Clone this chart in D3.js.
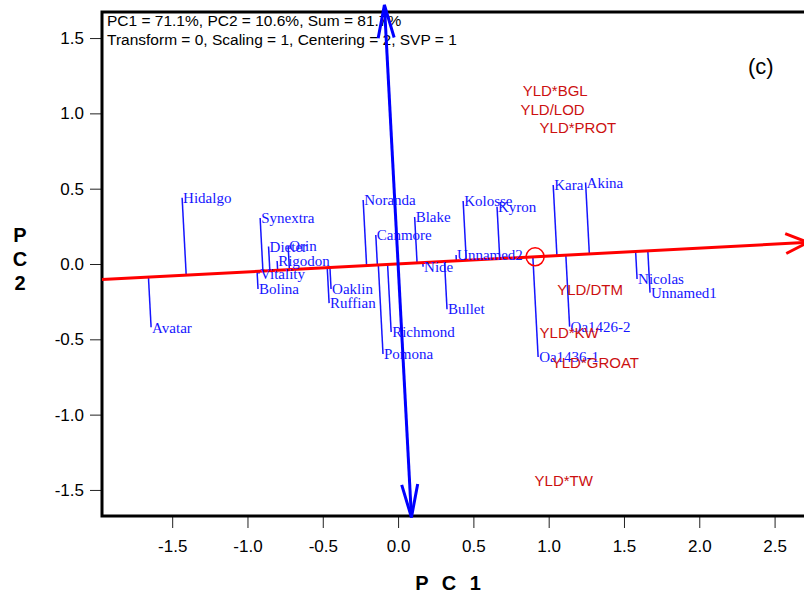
<!DOCTYPE html>
<html>
<head>
<meta charset="utf-8">
<script src="https://cdn.jsdelivr.net/npm/d3@7"></script>
<style>
  body { margin: 0; background: #fff; }
  text { font-family: "Liberation Sans", Arial, sans-serif; }
  text.geno { font-family: "Liberation Serif", "Times New Roman", serif; }
</style>
</head>
<body>
<script>
// genotypes (blue labels)
var genotypes = ["Hidalgo", "Avatar", "Synextra", "Dieter", "Orin", "Rigodon", "Vitality", "Bolina",
  "Oaklin", "Ruffian", "Noranda", "Canmore", "Blake", "Nide", "Richmond", "Pomona", "Bullet",
  "Kolosse", "Kyron", "Unnamed2", "Oa1436-1", "Kara", "Akina", "Oa1426-2", "Nicolas", "Unnamed1"];
var genoPC1 = [-1.434, -1.64, -0.916, -0.86, -0.73, -0.803, -0.923, -0.93,
  -0.445, -0.458, -0.232, -0.148, 0.11, 0.166, -0.046, -0.1, 0.325,
  0.432, 0.657, 0.385, 0.93, 1.03, 1.245, 1.139, 1.587, 1.673];
var genoPC2 = [0.44, -0.42, 0.305, 0.116, 0.12, 0.02, -0.064, -0.166,
  -0.166, -0.26, 0.425, 0.193, 0.312, -0.018, -0.452, -0.598, -0.3,
  0.418, 0.38, 0.06, -0.617, 0.525, 0.541, -0.416, -0.1, -0.19];

// environments / traits (red labels)
var envNames = ["YLD*BGL", "YLD/LOD", "YLD*PROT", "YLD/DTM", "YLD*KW", "YLD*GROAT", "YLD*TW"];
var envPC1 = [1.043, 1.026, 1.194, 1.275, 1.136, 1.31, 1.10];
var envPC2 = [1.151, 1.023, 0.905, -0.173, -0.456, -0.655, -1.44];

// average environment coordinate
var aec = [0.91, 0.048];

var xTicks = [-1.5, -1.0, -0.5, 0.0, 0.5, 1.0, 1.5, 2.0, 2.5];
var yTicks = [-1.5, -1.0, -0.5, 0.0, 0.5, 1.0, 1.5];

var infoLines = ["PC1 = 71.1%, PC2 = 10.6%, Sum = 81.7%",
  "Transform = 0, Scaling = 1, Centering = 2, SVP = 1"];

var width = 804, height = 596;
var plotLeft = 102, plotTop = 12, plotBottom = 516;

var x = d3.scaleLinear().domain([-1.966, 2.74]).range([plotLeft, plotLeft + 4.706 * 150.6]);
var y = d3.scaleLinear().domain([-1.673, 1.673]).range([plotBottom, plotTop]);

var fmt = function(d) { return d.toFixed(1); };

var svg = d3.select("body").append("svg")
  .attr("width", width)
  .attr("height", height);

// axes
var yAxis = svg.append("g")
  .attr("transform", "translate(" + plotLeft + ",0)")
  .call(d3.axisLeft(y).tickValues(yTicks).tickFormat(fmt).tickSize(12).tickPadding(6));
var xAxis = svg.append("g")
  .attr("transform", "translate(0," + plotBottom + ")")
  .call(d3.axisBottom(x).tickValues(xTicks).tickFormat(fmt).tickSize(12).tickPadding(12));
[xAxis, yAxis].forEach(function(a) {
  a.select(".domain").remove();
  a.selectAll("line").attr("stroke", "#222");
  a.selectAll("text").attr("font-size", 17).attr("fill", "#000");
});

// frame (right side runs past the window)
svg.append("rect")
  .attr("x", plotLeft).attr("y", plotTop)
  .attr("width", x.range()[1] - plotLeft).attr("height", plotBottom - plotTop)
  .attr("fill", "none").attr("stroke", "#000").attr("stroke-width", 3);

// axis titles
svg.append("text")
  .attr("x", 450).attr("y", 590)
  .attr("text-anchor", "middle")
  .attr("font-size", 20).attr("font-weight", "bold")
  .attr("letter-spacing", 4)
  .text("P C 1");
["P", "C", "2"].forEach(function(c, i) {
  svg.append("text")
    .attr("x", 20).attr("y", 242 + i * 24)
    .attr("text-anchor", "middle")
    .attr("font-size", 20).attr("font-weight", "bold")
    .text(c);
});

// info text
svg.selectAll(".info")
  .data(infoLines)
  .enter().append("text")
  .attr("class", "info")
  .attr("x", 107)
  .attr("y", function(d, i) { return 26 + i * 19; })
  .attr("font-size", 15.5)
  .text(function(d) { return d; });

svg.append("text")
  .attr("x", 748).attr("y", 74)
  .attr("font-size", 22)
  .text("(c)");

// AEC unit vectors
var len = Math.sqrt(aec[0] * aec[0] + aec[1] * aec[1]);
var ux = aec[0] / len, uy = aec[1] / len;

function arrowHead(g, tip, tail, size, half, color, w) {
  var dx = tip[0] - tail[0], dy = tip[1] - tail[1];
  var l = Math.sqrt(dx * dx + dy * dy);
  dx /= l; dy /= l;
  var bx = tip[0] - dx * size, by = tip[1] - dy * size;
  var p1 = [bx - dy * half, by + dx * half], p2 = [bx + dy * half, by - dx * half];
  g.append("path")
    .attr("d", "M" + p1 + "L" + tip + "L" + p2)
    .attr("fill", "none").attr("stroke", color).attr("stroke-width", w);
}

var g = svg.append("g");

// projection lines from genotypes onto AEC abscissa
var geno = genotypes.map(function(n, i) {
  var t = genoPC1[i] * ux + genoPC2[i] * uy;
  return { name: n, x: genoPC1[i], y: genoPC2[i], px: t * ux, py: t * uy };
});

g.selectAll(".proj")
  .data(geno)
  .enter().append("line")
  .attr("class", "proj")
  .attr("x1", function(d) { return x(d.x); })
  .attr("y1", function(d) { return y(d.y); })
  .attr("x2", function(d) { return x(d.px); })
  .attr("y2", function(d) { return y(d.py); })
  .attr("stroke", "#1515ff").attr("stroke-width", 1.5);

// AEC abscissa (red)
var tL = x.domain()[0] / ux, tR = 2.72 / ux;
var redA = [x(tL * ux), y(tL * uy)], redB = [x(tR * ux), y(tR * uy)];
g.append("line")
  .attr("x1", redA[0]).attr("y1", redA[1])
  .attr("x2", redB[0]).attr("y2", redB[1])
  .attr("stroke", "#ff0000").attr("stroke-width", 3);
arrowHead(g, redB, redA, 22, 10, "#ff0000", 3);

// AEC ordinate (blue)
var tT = 1.72 / ux, tB = -1.682 / ux;
var blueA = [x(-uy * tT), y(ux * tT)], blueB = [x(-uy * tB), y(ux * tB)];
g.append("line")
  .attr("x1", blueA[0]).attr("y1", blueA[1])
  .attr("x2", blueB[0]).attr("y2", blueB[1])
  .attr("stroke", "#0000ff").attr("stroke-width", 3);
arrowHead(g, blueA, blueB, 33, 8, "#0000ff", 3);
arrowHead(g, blueB, blueA, 33, 8, "#0000ff", 3);

// average environment circle
g.append("circle")
  .attr("cx", x(aec[0])).attr("cy", y(aec[1]))
  .attr("r", 9)
  .attr("fill", "none").attr("stroke", "#ff0000").attr("stroke-width", 1.5);

// genotype labels
g.selectAll(".geno")
  .data(geno)
  .enter().append("text")
  .attr("class", "geno")
  .attr("x", function(d) { return x(d.x) + 1; })
  .attr("y", function(d) { return y(d.y); })
  .attr("dy", "0.35em")
  .attr("font-size", 15)
  .attr("fill", "#1515ff")
  .text(function(d) { return d.name; });

// environment labels
g.selectAll(".env")
  .data(envNames)
  .enter().append("text")
  .attr("class", "env")
  .attr("x", function(d, i) { return x(envPC1[i]); })
  .attr("y", function(d, i) { return y(envPC2[i]); })
  .attr("dy", "0.35em")
  .attr("text-anchor", "middle")
  .attr("font-size", 15)
  .attr("fill", "#cc1010")
  .text(function(d) { return d; });
</script>
</body>
</html>
